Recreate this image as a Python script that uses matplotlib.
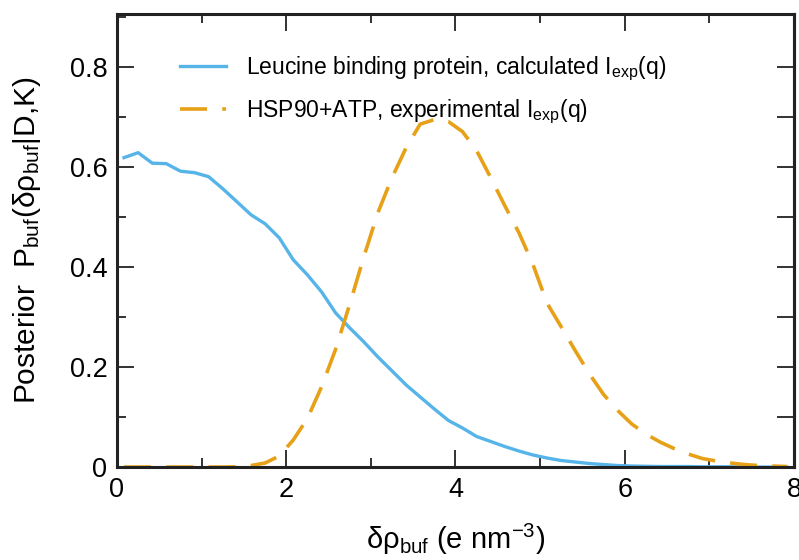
import matplotlib
matplotlib.use("Agg")
import matplotlib.pyplot as plt
import numpy as np
from matplotlib.ticker import MultipleLocator, FuncFormatter

plt.rcParams['font.family'] = ['Liberation Sans', 'DejaVu Sans']
plt.rcParams['mathtext.fontset'] = 'custom'
plt.rcParams['mathtext.rm'] = 'Liberation Sans'
plt.rcParams['mathtext.it'] = 'Liberation Sans:italic'

# density grid (e nm^-3)
rho = [0.083, 0.25, 0.417, 0.583, 0.75, 0.917, 1.083, 1.25, 1.417, 1.583,
       1.75, 1.917, 2.083, 2.25, 2.417, 2.583, 2.75, 2.917, 3.083, 3.25,
       3.417, 3.583, 3.75, 3.917, 4.083, 4.25, 4.417, 4.583, 4.75, 4.917,
       5.083, 5.25, 5.417, 5.583, 5.75, 5.917, 6.083, 6.25, 6.417, 6.583,
       6.75, 6.917, 7.083, 7.25, 7.417, 7.583, 7.75, 7.917]

# Leucine binding protein, calculated
lbp = [0.618, 0.628, 0.607, 0.606, 0.591, 0.588, 0.580, 0.556, 0.530, 0.504,
       0.486, 0.458, 0.414, 0.384, 0.350, 0.308, 0.278, 0.250, 0.220, 0.192,
       0.164, 0.140, 0.116, 0.093, 0.078, 0.061, 0.051, 0.041, 0.032, 0.024,
       0.018, 0.013, 0.010, 0.007, 0.005, 0.003, 0.002, 0.0015, 0.001, 0.001,
       0.001, 0.0005, 0.0005, 0.0005, 0.0, 0.0, 0.0, 0.0]

# HSP90+ATP, experimental
hsp = [0.0, 0.0, 0.0, 0.0, 0.0, 0.0, 0.0, 0.0, 0.0005, 0.003,
       0.008, 0.022, 0.054, 0.097, 0.160, 0.235, 0.325, 0.420, 0.508, 0.578,
       0.638, 0.685, 0.694, 0.690, 0.670, 0.632, 0.578, 0.522, 0.468, 0.404,
       0.327, 0.280, 0.232, 0.186, 0.145, 0.113, 0.086, 0.066, 0.050, 0.037,
       0.026, 0.017, 0.012, 0.008, 0.005, 0.003, 0.002, 0.001]

labels = ["Leucine binding protein, calculated I$_{\\mathregular{exp}}$(q)",
          "HSP90+ATP, experimental I$_{\\mathregular{exp}}$(q)"]

fig = plt.figure(figsize=(7.99, 5.6), dpi=100)
ax = fig.add_axes([0.1464, 0.166, 0.8473, 0.809])

ax.plot(rho, lbp, color='#56B4E9', lw=2.4, label=labels[0])
ax.plot(rho, hsp, color='#E6A118', lw=2.6, dashes=(7.5, 4.2), label=labels[1])

ax.set_xlim(0, 8)
ax.set_ylim(0, 0.905)

ax.xaxis.set_major_locator(MultipleLocator(2))
ax.xaxis.set_minor_locator(MultipleLocator(1))
ax.yaxis.set_major_locator(MultipleLocator(0.2))
ax.yaxis.set_minor_locator(MultipleLocator(0.1))
ax.xaxis.set_major_formatter(FuncFormatter(lambda v, p: '%g' % v))
ax.yaxis.set_major_formatter(FuncFormatter(lambda v, p: '%g' % round(v, 2)))

ax.tick_params(which='both', direction='in', top=True, right=False,
               width=1.3, labelsize=19.5, color='#222222')
ax.tick_params(which='major', length=12.5, pad=7)
ax.tick_params(which='minor', length=6.5)

# right side: all ticks the same length
sec = ax.secondary_yaxis('right')
sec.set_yticks(np.arange(0, 0.85, 0.1))
sec.tick_params(direction='in', length=12.5, width=1.3, labelright=False,
                color='#222222')
sec.spines['right'].set_linewidth(2.2)
sec.spines['right'].set_color('#222222')

for s in ax.spines.values():
    s.set_linewidth(2.2)
    s.set_color('#222222')

ax.set_xlabel("δρ$_{\\mathregular{buf}}$ (e nm$^{\\mathregular{-3}}$)", fontsize=21, labelpad=14)
ax.set_ylabel("Posterior  P$_{\\mathregular{buf}}$(δρ$_{\\mathregular{buf}}$|D,K)", fontsize=21.5, labelpad=19)

ax.legend(loc='upper left', bbox_to_anchor=(0.063, 0.955), frameon=False,
          fontsize=16.5, handlelength=2.0, handletextpad=0.85, labelspacing=0.62)

fig.savefig("out.png", dpi=100)
